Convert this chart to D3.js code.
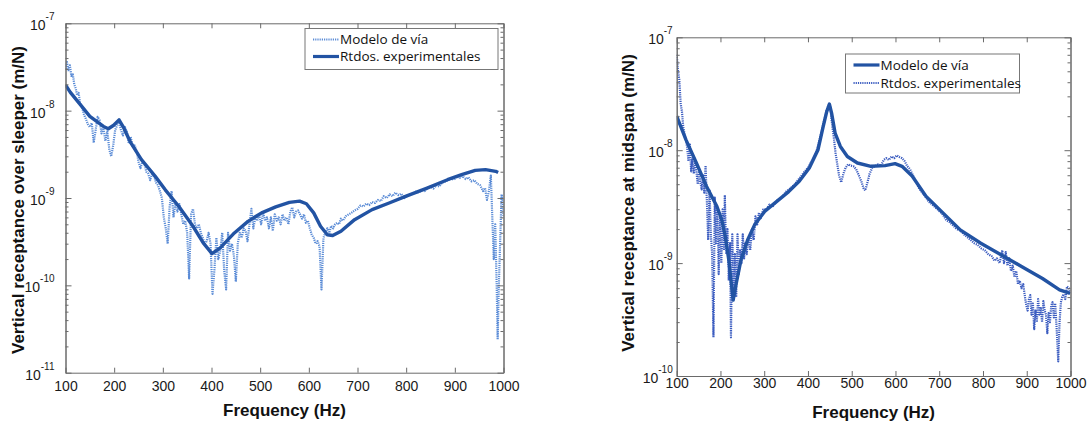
<!DOCTYPE html>
<html>
<head>
<meta charset="utf-8">
<script src="https://cdn.jsdelivr.net/npm/d3@7"></script>
<style>
body { margin: 0; background: #fff; }
svg { display: block; }
</style>
</head>
<body>
<svg width="1088" height="421"></svg>
<script>
// frequency ticks shared by both panels
const freqTicks = [100, 200, 300, 400, 500, 600, 700, 800, 900, 1000]
const leftDecades = [1e-11, 1e-10, 1e-9, 1e-8, 1e-7]
const rightDecades = [1e-10, 1e-9, 1e-8, 1e-7]

// left panel: receptance over sleeper, [Hz, m/N]
const leftExperimental = [
  [100, 1.97e-8], [110, 1.62e-8], [128, 1.22e-8], [150, 8.6e-9], [178, 6.6e-9], [188, 6.2e-9],
  [199, 6.8e-9], [210, 7.85e-9], [220, 6.3e-9], [234, 4.3e-9], [256, 2.75e-9], [284, 1.78e-9],
  [305, 1.24e-9], [333, 8.0e-10], [362, 4.75e-10], [383, 3.06e-10], [401, 2.31e-10], [418, 2.69e-10],
  [447, 3.98e-10], [475, 5.4e-10], [503, 6.76e-10], [532, 7.9e-10], [560, 8.9e-10], [581, 9.2e-10],
  [595, 8.6e-10], [610, 6.76e-10], [624, 4.75e-10], [638, 3.8e-10], [649, 3.72e-10], [666, 4.17e-10],
  [694, 5.65e-10], [730, 7.36e-10], [765, 8.77e-10], [800, 1.05e-9], [843, 1.3e-9], [885, 1.62e-9],
  [914, 1.85e-9], [942, 2.07e-9], [963, 2.11e-9], [984, 2.02e-9], [989, 1.96e-9]
]
const leftModel = [
  [100, 3.0e-8], [103, 3.6e-8], [106, 2.9e-8], [109, 3.3e-8], [112, 2.5e-8], [115, 2.6e-8],
  [118, 2.0e-8], [121, 1.8e-8], [124, 1.5e-8], [127, 1.6e-8], [130, 1.2e-8], [134, 1.1e-8],
  [138, 9.0e-9], [142, 8.0e-9], [146, 7.0e-9], [150, 6.5e-9], [154, 7.2e-9], [158, 4.3e-9],
  [162, 6.0e-9], [166, 8.5e-9], [170, 7.8e-9], [174, 5.5e-9], [178, 6.3e-9], [182, 4.5e-9],
  [186, 5.8e-9], [190, 3.6e-9], [194, 3.0e-9], [198, 4.0e-9], [202, 6.0e-9], [206, 6.8e-9],
  [210, 7.4e-9], [214, 6.0e-9], [218, 5.2e-9], [222, 6.5e-9], [226, 5.8e-9], [230, 4.2e-9],
  [234, 5.0e-9], [238, 3.9e-9], [242, 4.0e-9], [246, 3.5e-9], [250, 2.6e-9], [254, 2.2e-9],
  [258, 2.6e-9], [262, 2.5e-9], [266, 2.0e-9], [270, 1.9e-9], [274, 1.6e-9], [278, 1.9e-9],
  [282, 1.8e-9], [286, 1.5e-9], [290, 1.4e-9], [294, 1.2e-9], [298, 1.0e-9], [302, 6.0e-10],
  [306, 4.5e-10], [310, 3.0e-10], [314, 8.0e-10], [318, 1.2e-9], [322, 6.0e-10], [326, 9.0e-10],
  [330, 7.0e-10], [334, 8.5e-10], [338, 6.5e-10], [342, 5.0e-10], [346, 5.5e-10], [350, 4.0e-10],
  [354, 1.2e-10], [358, 6.5e-10], [362, 7.5e-10], [366, 5.0e-10], [370, 4.5e-10], [374, 5.0e-10],
  [378, 4.0e-10], [382, 3.5e-10], [386, 3.0e-10], [390, 3.2e-10], [394, 4.0e-10], [398, 3.0e-10],
  [402, 8.0e-11], [406, 1.5e-10], [410, 3.5e-10], [414, 2.0e-10], [418, 2.5e-10], [422, 4.0e-10],
  [426, 1.5e-10], [430, 9.0e-11], [434, 4.0e-10], [438, 2.5e-10], [442, 3.0e-10], [446, 2.2e-10],
  [450, 1.1e-10], [454, 3.0e-10], [458, 4.0e-10], [462, 3.5e-10], [466, 4.5e-10], [470, 4.2e-10],
  [474, 3.2e-10], [478, 5.0e-10], [482, 7.5e-10], [486, 4.5e-10], [490, 6.0e-10], [494, 5.5e-10],
  [498, 6.5e-10], [502, 5.0e-10], [506, 6.8e-10], [510, 5.5e-10], [514, 6.0e-10], [518, 4.5e-10],
  [522, 6.0e-10], [526, 4.2e-10], [530, 6.5e-10], [534, 5.5e-10], [538, 6.0e-10], [542, 5.0e-10],
  [546, 6.5e-10], [550, 5.5e-10], [554, 6.0e-10], [558, 5.0e-10], [562, 7.0e-10], [566, 7.8e-10],
  [570, 6.0e-10], [574, 7.0e-10], [578, 7.2e-10], [582, 6.5e-10], [586, 5.8e-10], [590, 6.5e-10],
  [594, 5.2e-10], [598, 5.5e-10], [602, 4.5e-10], [606, 3.8e-10], [610, 3.5e-10], [614, 3.0e-10],
  [618, 3.2e-10], [622, 2.8e-10], [626, 9.0e-11], [630, 3.5e-10], [634, 4.0e-10], [638, 4.5e-10],
  [642, 4.0e-10], [646, 4.8e-10], [650, 4.5e-10], [654, 5.0e-10], [658, 5.2e-10], [662, 5.0e-10],
  [666, 5.8e-10], [670, 5.5e-10], [676, 6.2e-10], [682, 6.5e-10], [688, 6.8e-10], [694, 7.2e-10],
  [700, 7.5e-10], [706, 8.2e-10], [712, 8.0e-10], [718, 8.6e-10], [724, 8.3e-10], [730, 9.0e-10],
  [736, 8.8e-10], [742, 9.5e-10], [748, 9.2e-10], [754, 1.05e-9], [760, 1.0e-9], [766, 1.1e-9],
  [772, 1.05e-9], [778, 1.15e-9], [784, 1.08e-9], [790, 1.12e-9], [796, 1.0e-9], [802, 1.05e-9],
  [808, 1.1e-9], [814, 1.12e-9], [820, 1.18e-9], [826, 1.15e-9], [832, 1.25e-9], [838, 1.2e-9],
  [844, 1.3e-9], [850, 1.35e-9], [856, 1.28e-9], [862, 1.4e-9], [868, 1.35e-9], [874, 1.5e-9],
  [880, 1.55e-9], [886, 1.6e-9], [892, 1.68e-9], [898, 1.62e-9], [904, 1.75e-9], [910, 1.7e-9],
  [916, 1.78e-9], [922, 1.65e-9], [928, 1.72e-9], [934, 1.55e-9], [940, 1.6e-9], [946, 1.45e-9],
  [952, 1.4e-9], [958, 1.2e-9], [962, 1.3e-9], [966, 9.5e-10], [970, 1.2e-9], [974, 1.8e-9],
  [977, 6.0e-10], [980, 2.0e-10], [983, 5.0e-10], [986, 1.0e-10], [988, 2.4e-11], [990, 8.0e-11],
  [993, 3.0e-10], [996, 1.1e-9], [999, 9.0e-10], [1000, 6.0e-10]
]

// right panel: receptance at midspan, [Hz, m/N]
const rightModel = [
  [100, 2.0e-8], [121, 1.24e-8], [145, 7.7e-9], [168, 4.8e-9], [192, 3.17e-9], [203, 2.42e-9],
  [211, 1.72e-9], [219, 1.07e-9], [229, 4.7e-10], [235, 6.3e-10], [247, 1.07e-9], [262, 1.6e-9],
  [278, 2.18e-9], [301, 2.87e-9], [333, 3.63e-9], [356, 4.3e-9], [380, 5.3e-9], [403, 6.95e-9],
  [423, 1.01e-8], [435, 1.63e-8], [443, 2.21e-8], [449, 2.56e-8], [454, 2.13e-8], [462, 1.42e-8],
  [474, 1.08e-8], [490, 8.8e-9], [513, 7.7e-9], [544, 7.2e-9], [576, 7.3e-9], [599, 7.6e-9],
  [615, 7.2e-9], [638, 5.9e-9], [670, 3.9e-9], [709, 2.77e-9], [748, 1.97e-9], [795, 1.5e-9],
  [842, 1.18e-9], [889, 9.3e-10], [936, 7.3e-10], [975, 5.8e-10], [999, 5.4e-10]
]
const rightExperimental = [
  [100, 7.0e-8], [103, 5.0e-8], [106, 4.2e-8], [109, 2.6e-8], [112, 2.2e-8], [115, 1.6e-8],
  [118, 1.4e-8], [121, 1.25e-8], [124, 1.05e-8], [127, 8.0e-9], [130, 1.15e-8], [133, 6.5e-9],
  [136, 8.5e-9], [139, 6.2e-9], [142, 8.0e-9], [145, 6.5e-9], [148, 5.0e-9], [151, 6.5e-9],
  [154, 5.2e-9], [157, 4.5e-9], [160, 6.0e-9], [163, 4.2e-9], [166, 7.3e-9], [169, 3.5e-9],
  [172, 1.6e-9], [175, 4.5e-9], [178, 1.8e-9], [181, 1.2e-9], [184, 2.2e-10], [187, 3.8e-9],
  [190, 1.5e-9], [193, 3.0e-9], [196, 8.0e-10], [199, 2.6e-9], [202, 1.0e-9], [205, 3.0e-9],
  [208, 1.3e-9], [210, 4.0e-9], [213, 1.2e-9], [216, 2.0e-9], [219, 7.0e-10], [222, 1.5e-9],
  [224, 2.2e-10], [227, 1.8e-9], [230, 6.0e-10], [233, 1.2e-9], [236, 5.0e-10], [239, 1.8e-9],
  [242, 8.0e-10], [245, 1.3e-9], [248, 1.0e-9], [251, 1.8e-9], [254, 1.1e-9], [257, 1.5e-9],
  [260, 1.2e-9], [264, 1.7e-9], [268, 1.3e-9], [272, 2.0e-9], [276, 1.6e-9], [280, 2.6e-9],
  [284, 2.2e-9], [288, 2.8e-9], [292, 2.5e-9], [298, 3.0e-9], [305, 3.0e-9], [312, 3.3e-9],
  [320, 3.2e-9], [330, 3.6e-9], [340, 3.8e-9], [350, 4.3e-9], [360, 4.6e-9], [370, 5.0e-9],
  [380, 5.6e-9], [390, 6.3e-9], [400, 7.0e-9], [410, 8.2e-9], [420, 1.0e-8], [428, 1.3e-8],
  [435, 1.7e-8], [442, 2.2e-8], [447, 2.5e-8], [451, 2.4e-8], [455, 1.7e-8], [459, 1.3e-8],
  [463, 9.5e-9], [467, 7.5e-9], [471, 6.0e-9], [476, 5.2e-9], [481, 6.2e-9], [486, 7.0e-9],
  [492, 7.5e-9], [498, 7.3e-9], [504, 7.2e-9], [510, 6.8e-9], [516, 6.0e-9], [522, 5.3e-9],
  [527, 4.6e-9], [531, 4.4e-9], [536, 5.2e-9], [541, 6.2e-9], [547, 7.0e-9], [553, 7.2e-9],
  [560, 7.5e-9], [567, 7.3e-9], [573, 8.2e-9], [579, 8.5e-9], [585, 8.2e-9], [591, 8.8e-9],
  [597, 8.5e-9], [603, 9.0e-9], [609, 8.7e-9], [615, 8.5e-9], [621, 8.0e-9], [627, 7.2e-9],
  [633, 6.8e-9], [640, 6.0e-9], [647, 5.2e-9], [654, 4.6e-9], [661, 4.2e-9], [668, 3.9e-9],
  [676, 3.5e-9], [684, 3.3e-9], [692, 3.1e-9], [700, 2.9e-9], [708, 2.7e-9], [716, 2.4e-9],
  [724, 2.3e-9], [732, 2.15e-9], [740, 2.0e-9], [748, 1.95e-9], [756, 1.8e-9], [764, 1.7e-9],
  [772, 1.6e-9], [780, 1.5e-9], [788, 1.45e-9], [796, 1.35e-9], [804, 1.3e-9], [812, 1.2e-9],
  [820, 1.15e-9], [826, 1.05e-9], [832, 1.1e-9], [838, 1.0e-9], [844, 1.3e-9], [848, 1.0e-9],
  [852, 1.25e-9], [856, 9.5e-10], [860, 1.1e-9], [864, 8.5e-10], [868, 9.5e-10], [872, 7.5e-10],
  [876, 8.5e-10], [880, 6.5e-10], [884, 7.0e-10], [888, 6.0e-10], [892, 6.5e-10], [896, 5.0e-10],
  [899, 4.2e-10], [902, 3.8e-10], [905, 4.8e-10], [908, 5.2e-10], [911, 3.5e-10], [914, 4.5e-10],
  [917, 2.6e-10], [920, 3.8e-10], [923, 3.0e-10], [926, 4.8e-10], [929, 3.5e-10], [932, 4.0e-10],
  [935, 3.0e-10], [938, 4.6e-10], [941, 3.8e-10], [944, 3.5e-10], [947, 2.4e-10], [950, 3.6e-10],
  [953, 3.0e-10], [956, 4.2e-10], [959, 4.5e-10], [962, 3.3e-10], [965, 4.4e-10], [968, 2.8e-10],
  [972, 1.35e-10], [975, 3.0e-10], [978, 4.5e-10], [981, 5.0e-10], [984, 5.3e-10], [988, 4.8e-10],
  [992, 6.2e-10], [996, 6.0e-10], [1000, 5.3e-10]
]

const AXIS_COLOR = '#6a6a6a'
const TICK_FONT = '"Liberation Sans", Arial, Helvetica, sans-serif'
const SOLID = { stroke: '#2253a3', width: 3.4, dash: null }
const DOTTED_LIGHT = { stroke: '#5a8bd6', width: 2.2, dash: '1.2,1' }
const DOTTED_DARK = { stroke: '#3b5cc0', width: 2.2, dash: '1.2,1' }

const svg = d3.select('svg')

function isDecade (v) {
  const l = Math.log10(v)
  return Math.abs(l - Math.round(l)) < 1e-6
}

function Panel (opt) {
  const self = {}
  const g = svg.append('g')
  const x = d3.scaleLinear().domain([100, 1000]).range([opt.left, opt.right])
  const y = d3.scaleLog().domain([opt.decades[0], opt.decades[opt.decades.length - 1]]).range([opt.bottom, opt.top])
  const minor = y.ticks().filter(v => !isDecade(v))

  g.append('clipPath').attr('id', 'clip-' + opt.name)
    .append('rect')
    .attr('x', opt.left).attr('y', opt.top)
    .attr('width', opt.right - opt.left).attr('height', opt.bottom - opt.top)

  const line = d3.line().x(d => x(d[0])).y(d => y(d[1]))
  const plot = g.append('g').attr('clip-path', 'url(#clip-' + opt.name + ')')

  self.series = function (data, style) {
    plot.append('path')
      .datum(data)
      .attr('d', line)
      .attr('fill', 'none')
      .attr('stroke', style.stroke)
      .attr('stroke-width', style.width)
      .attr('stroke-linejoin', 'round')
      .attr('stroke-dasharray', style.dash)
    return self
  }

  self.axes = function () {
    const styleAxis = sel => {
      sel.select('.domain').attr('stroke', AXIS_COLOR)
      sel.selectAll('.tick line').attr('stroke', AXIS_COLOR)
      sel.selectAll('text').attr('fill', '#1a1a1a').style('font-family', TICK_FONT).style('font-size', '14px')
    }
    g.append('g')
      .attr('transform', 'translate(0,' + opt.bottom + ')')
      .call(d3.axisBottom(x).tickValues(freqTicks).tickFormat(d3.format('d'))
        .tickSizeInner(-5).tickSizeOuter(0).tickPadding(opt.xPad))
      .call(styleAxis)
    g.append('g')
      .attr('transform', 'translate(0,' + opt.top + ')')
      .call(d3.axisTop(x).tickValues(freqTicks).tickSizeInner(-5).tickSizeOuter(0).tickFormat(''))
      .call(styleAxis)
    g.append('g')
      .attr('transform', 'translate(' + opt.left + ',0)')
      .call(d3.axisLeft(y).tickValues(opt.decades).tickSizeInner(-6).tickSizeOuter(0).tickFormat(''))
      .call(styleAxis)
    g.append('g')
      .attr('transform', 'translate(' + opt.left + ',0)')
      .call(d3.axisLeft(y).tickValues(minor).tickSizeInner(-3).tickSizeOuter(0).tickFormat(''))
      .call(styleAxis)
    g.append('g')
      .attr('transform', 'translate(' + opt.right + ',0)')
      .call(d3.axisRight(y).tickValues(opt.decades).tickSizeInner(-6).tickSizeOuter(0).tickFormat(''))
      .call(styleAxis)
    g.append('g')
      .attr('transform', 'translate(' + opt.right + ',0)')
      .call(d3.axisRight(y).tickValues(minor).tickSizeInner(-3).tickSizeOuter(0).tickFormat(''))
      .call(styleAxis)

    // 10^n labels
    const lab = g.selectAll('.ylab')
      .data(opt.decades)
      .enter()
      .append('text')
      .attr('class', 'ylab')
      .attr('x', opt.left - opt.yGap)
      .attr('y', d => y(d))
      .attr('text-anchor', 'end')
      .attr('fill', '#1a1a1a')
      .style('font-family', TICK_FONT)
    lab.append('tspan').attr('dy', 7).style('font-size', '14px').text('10')
    lab.append('tspan').attr('dy', -10).style('font-size', '10px').text(d => Math.round(Math.log10(d)))

    g.append('text')
      .attr('x', (opt.left + opt.right) / 2)
      .attr('y', opt.xTitleY)
      .attr('text-anchor', 'middle')
      .style('font-family', TICK_FONT)
      .style('font-weight', 'bold')
      .style('font-size', '17px')
      .attr('fill', '#111')
      .text('Frequency (Hz)')
    g.append('text')
      .attr('transform', 'translate(' + opt.yTitleX + ',' + opt.yTitleY + ') rotate(-90)')
      .attr('text-anchor', 'middle')
      .style('font-family', TICK_FONT)
      .style('font-weight', 'bold')
      .style('font-size', '17px')
      .attr('fill', '#111')
      .text(opt.yTitle)
    return self
  }

  self.legend = function (box, items) {
    const lg = g.append('g')
    lg.append('rect')
      .attr('x', box.x).attr('y', box.y).attr('width', box.w).attr('height', box.h)
      .attr('fill', '#fff').attr('stroke', '#777').attr('stroke-width', 1)
    items.forEach(function (it, i) {
      const cy = box.y + box.rowTop + i * box.rowStep
      lg.append('line')
        .attr('x1', box.x + 8).attr('x2', box.x + 34)
        .attr('y1', cy).attr('y2', cy)
        .attr('stroke', it.style.stroke)
        .attr('stroke-width', it.style.dash ? 2 : 3.2)
        .attr('stroke-dasharray', it.style.dash)
      lg.append('text')
        .attr('x', box.x + 35).attr('y', cy + 4.5)
        .style('font-family', '"Open Sans", sans-serif')
        .style('font-size', '13.5px')
        .attr('fill', '#111')
        .text(it.label)
    })
    return self
  }
  return self
}

Panel({
  name: 'left', left: 65.5, right: 503.5, top: 23.3, bottom: 372.7,
  decades: leftDecades, xPad: 8, yGap: 11, xTitleY: 416, yTitleX: 24, yTitleY: 200,
  yTitle: 'Vertical receptance over sleeper (m/N)'
})
  .series(leftModel, DOTTED_LIGHT)
  .series(leftExperimental, SOLID)
  .axes()
  .legend({ x: 305, y: 28.5, w: 193, h: 41, rowTop: 11, rowStep: 17 }, [
    { label: 'Modelo de vía', style: DOTTED_LIGHT },
    { label: 'Rtdos. experimentales', style: SOLID }
  ])

Panel({
  name: 'right', left: 676.7, right: 1070.5, top: 37.3, bottom: 376,
  decades: rightDecades, xPad: 2, yGap: 4, xTitleY: 418, yTitleX: 634, yTitleY: 203,
  yTitle: 'Vertical receptance at midspan (m/N)'
})
  .series(rightExperimental, DOTTED_DARK)
  .series(rightModel, SOLID)
  .axes()
  .legend({ x: 845.5, y: 54, w: 174, h: 39, rowTop: 11, rowStep: 18 }, [
    { label: 'Modelo de vía', style: SOLID },
    { label: 'Rtdos. experimentales', style: DOTTED_DARK }
  ])
</script>
</body>
</html>
